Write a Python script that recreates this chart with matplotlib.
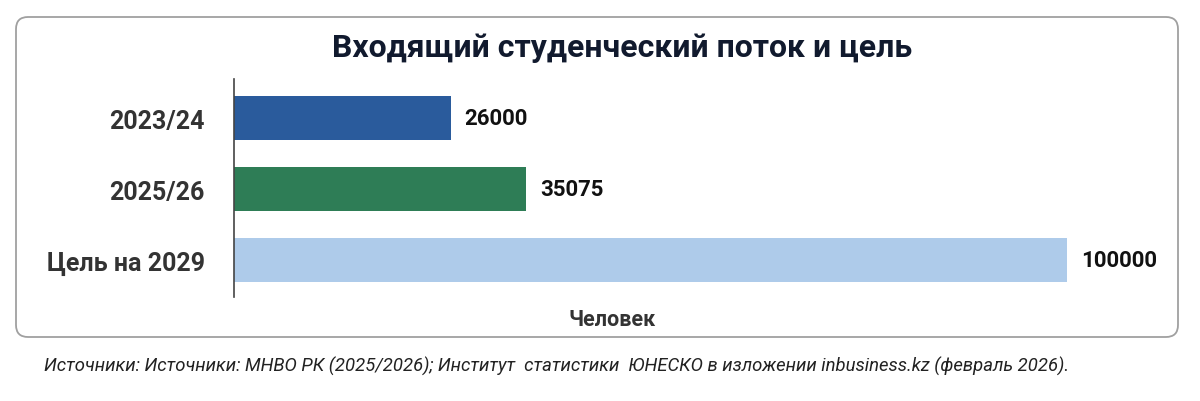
import matplotlib
matplotlib.use("Agg")
import matplotlib.pyplot as plt
from matplotlib.patches import FancyBboxPatch

plt.rcParams['font.family'] = ['Roboto', 'DejaVu Sans']

categories = ["2023/24", "2025/26", "Цель на 2029"]
values = [26000, 35075, 100000]
colors = ["#2a5b9c", "#2e7d56", "#aecbea"]

title = "Входящий студенческий поток и цель"
xlabel = "Человек"
source = ("Источники: Источники: МНВО РК (2025/2026); Институт  статистики  ЮНЕСКО "
          "в изложении inbusiness.kz (февраль 2026).")

fig = plt.figure(figsize=(12, 4.02), dpi=100)

# rounded frame around the chart (inches), kept behind the axes
frame = FancyBboxPatch((0.16, 0.64), 11.62, 3.20,
                       boxstyle="round,pad=0,rounding_size=0.12",
                       transform=fig.dpi_scale_trans,
                       facecolor="white", edgecolor="#a0a0a0", linewidth=1.3,
                       zorder=-1)
fig.patches.append(frame)

ax = fig.add_axes([0.195, 0.259, 0.694, 0.542])
ax.set_facecolor("none")

pos = range(len(categories))
bars = ax.barh(pos, values, height=0.62, color=colors)

ax.set_xlim(0, 100000)
ax.set_ylim(2.52, -0.55)
ax.set_yticks(list(pos))
ax.set_yticklabels(categories, fontsize=18, fontweight="bold", color="#333333")
ax.tick_params(axis="y", length=0, pad=21)
ax.set_xticks([])

for side in ["top", "right", "bottom"]:
    ax.spines[side].set_visible(False)
ax.spines["left"].set_color("#444444")
ax.spines["left"].set_linewidth(1.2)

for b, v in zip(bars, values):
    ax.annotate(str(v), (b.get_width(), b.get_y() + b.get_height() / 2),
                xytext=(10, 0), textcoords="offset points",
                ha="left", va="center", fontsize=16, fontweight="bold",
                color="#111111", annotation_clip=False)

fig.text(0.518, 1 - 48 / 402, title, ha="center", va="center",
         fontsize=23, fontweight="bold", color="#111a2e")
fig.text(0.51, 1 - 320 / 402, xlabel, ha="center", va="center",
         fontsize=15.5, fontweight="bold", color="#333333")
fig.text(0.037, 1 - 366 / 402, source, ha="left", va="center",
         fontsize=13.3, style="italic", color="#222222")

fig.savefig("out.png", dpi=100)
